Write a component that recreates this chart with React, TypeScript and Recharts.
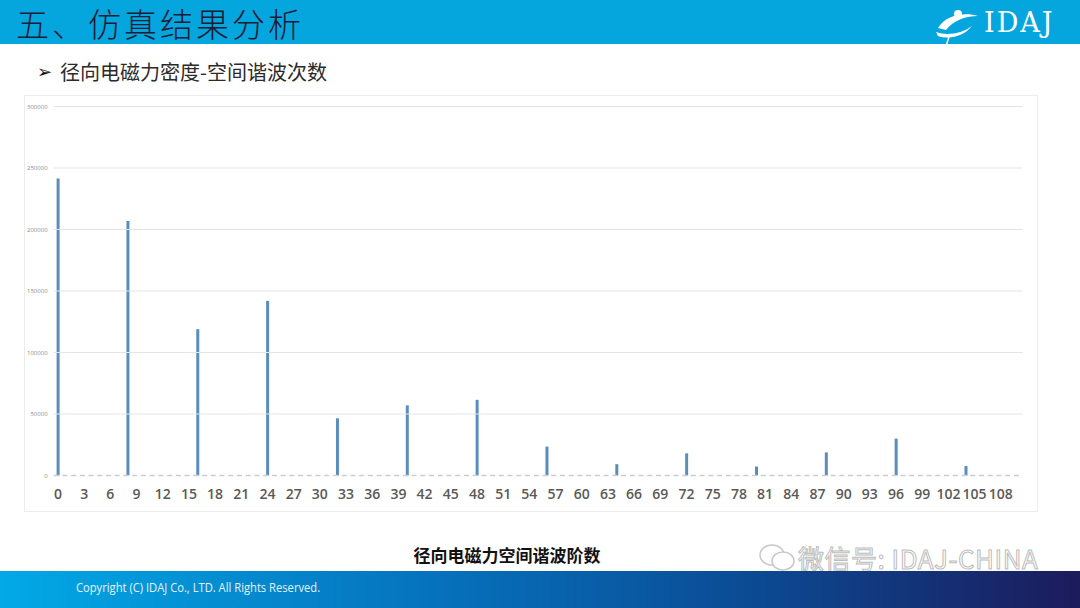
import { BarChart, Bar, XAxis, YAxis, ReferenceLine } from "recharts";

// harmonic orders on the x axis
const orders = [
  0, 1, 2, 3, 4, 5, 6, 7, 8, 9, 10, 11, 12, 13, 14, 15, 16, 17, 18, 19,
  20, 21, 22, 23, 24, 25, 26, 27, 28, 29, 30, 31, 32, 33, 34, 35, 36, 37, 38, 39,
  40, 41, 42, 43, 44, 45, 46, 47, 48, 49, 50, 51, 52, 53, 54, 55, 56, 57, 58, 59,
  60, 61, 62, 63, 64, 65, 66, 67, 68, 69, 70, 71, 72, 73, 74, 75, 76, 77, 78, 79,
  80, 81, 82, 83, 84, 85, 86, 87, 88, 89, 90, 91, 92, 93, 94, 95, 96, 97, 98, 99,
  100, 101, 102, 103, 104, 105, 106, 107, 108, 109, 110,
];

// orders with a visible amplitude, and their values
const peakOrders = [0, 8, 16, 24, 32, 40, 48, 56, 64, 72, 80, 88, 96, 104];
const peakValues = [
  241500, 207000, 119000, 142000, 46500, 57000, 61500, 23500, 9200, 18000,
  7300, 18800, 30000, 7700,
];

const yTicks = [0, 50000, 100000, 150000, 200000, 250000, 300000];

const data = orders.map((order) => {
  const i = peakOrders.indexOf(order);
  return { order, force: i >= 0 ? peakValues[i] : 0 };
});

const CJK = '"Noto Sans CJK SC", "Noto Sans", sans-serif';

function Logo() {
  return (
    <div style={{ position: "absolute", left: 932, top: 6, width: 130, height: 36 }}>
      <svg width={50} height={40} style={{ position: "absolute", left: 0, top: 0 }}>
        <path d="M6 22 C 14 8, 34 6, 46 10 C 34 10, 22 14, 14 24 Z" fill="#fff" />
        <circle cx={26} cy={8} r={4} fill="#fff" />
        <path d="M4 26 C 14 30, 30 28, 40 20 C 32 30, 18 34, 6 30 Z" fill="#fff" />
        <path d="M18 28 L 14 40" stroke="#fff" strokeWidth={1.5} />
      </svg>
      <div
        style={{
          position: "absolute",
          left: 52,
          top: 1,
          fontFamily: '"DejaVu Serif", "Liberation Serif", serif',
          fontSize: 27,
          color: "#fff",
          letterSpacing: 2,
        }}
      >
        IDAJ
      </div>
    </div>
  );
}

export default function App() {
  return (
    <div
      style={{
        position: "fixed",
        left: 0,
        top: 0,
        width: 1080,
        height: 608,
        background: "#fff",
        overflow: "hidden",
        fontFamily: CJK,
      }}
    >
      {/* header band */}
      <div style={{ position: "absolute", left: 0, top: 0, width: 1080, height: 44, background: "#05a6de" }} />
      <div
        style={{
          position: "absolute",
          left: 16,
          top: 0,
          fontSize: 33,
          lineHeight: "46px",
          color: "#1b1c36",
          letterSpacing: 3,
          fontWeight: 300,
        }}
      >
        五、仿真结果分析
      </div>
      <Logo />

      <div
        style={{
          position: "absolute",
          left: 37,
          top: 58,
          fontSize: 20,
          lineHeight: "28px",
          color: "#2b2b2b",
          display: "flex",
          alignItems: "center",
        }}
      >
        <span style={{ fontSize: 18, marginRight: 8, color: "#111", fontFamily: '"DejaVu Sans", sans-serif' }}>➢</span>
        <span>径向电磁力密度-空间谐波次数</span>
      </div>

      {/* chart panel */}
      <div
        style={{
          position: "absolute",
          left: 24,
          top: 95,
          width: 1014,
          height: 417,
          border: "1px solid #ececec",
          boxSizing: "border-box",
        }}
      />
      <div style={{ position: "absolute", left: 0, top: 0 }}>
        <BarChart
          width={1080}
          height={520}
          data={data}
          margin={{ top: 106.5, right: 57.4, bottom: 4.5, left: 23.6 }}
        >
          <YAxis
            width={30}
            domain={[0, 300000]}
            ticks={yTicks}
            axisLine={false}
            tickLine={false}
            tickSize={0}
            tickMargin={6}
            tick={{ fontSize: 6, fill: "#8c8c8c", fontFamily: "Open Sans, sans-serif" }}
          />
          {yTicks.slice(1).map((t) => (
            <ReferenceLine key={t} y={t} stroke="#e4e4e4" strokeWidth={1} />
          ))}
          <XAxis
            dataKey="order"
            height={40}
            interval={2}
            tickLine={false}
            tickSize={0}
            tickMargin={14}
            axisLine={{ stroke: "#c9cdd1", strokeWidth: 1.5, strokeDasharray: "5 3.73" }}
            tick={{ fontSize: 14, fill: "#595959", fontWeight: 600, fontFamily: "Open Sans, sans-serif" }}
          />
          <Bar dataKey="force" fill="#5a8dbc" barSize={3} isAnimationActive={false} />
        </BarChart>
      </div>

      {/* axis caption */}
      <div
        style={{
          position: "absolute",
          left: 0,
          width: 1014,
          top: 542,
          textAlign: "center",
          fontSize: 17,
          fontWeight: 700,
          color: "#111",
        }}
      >
        径向电磁力空间谐波阶数
      </div>

      {/* watermark */}
      <div style={{ position: "absolute", left: 758, top: 539, display: "flex", alignItems: "center" }}>
        <svg width={38} height={34}>
          <ellipse cx={14} cy={14} rx={12} ry={10} fill="none" stroke="#c8c8c8" strokeWidth={1.5} />
          <ellipse cx={25} cy={20} rx={11} ry={9} fill="#fff" stroke="#c8c8c8" strokeWidth={1.5} />
        </svg>
        <div
          style={{
            fontSize: 26,
            color: "#fff",
            WebkitTextStroke: "1px #bdbdbd",
            fontFamily: CJK,
            marginLeft: 2,
            letterSpacing: 0.5,
          }}
        >
          微信号: IDAJ-CHINA
        </div>
      </div>

      {/* footer band */}
      <div
        style={{
          position: "absolute",
          left: 0,
          top: 571,
          width: 1080,
          height: 37,
          background: "linear-gradient(90deg, #02a9e6 0%, #0672bd 40%, #0b4a93 70%, #1c1b5c 100%)",
        }}
      />
      <div
        style={{
          position: "absolute",
          left: 76,
          top: 578,
          fontSize: 13,
          color: "#e6f2fb",
          fontFamily: "Open Sans, sans-serif",
          transform: "scaleX(0.86)",
          transformOrigin: "left center",
          whiteSpace: "nowrap",
        }}
      >
        Copyright (C) IDAJ Co., LTD. All Rights Reserved.
      </div>
    </div>
  );
}
